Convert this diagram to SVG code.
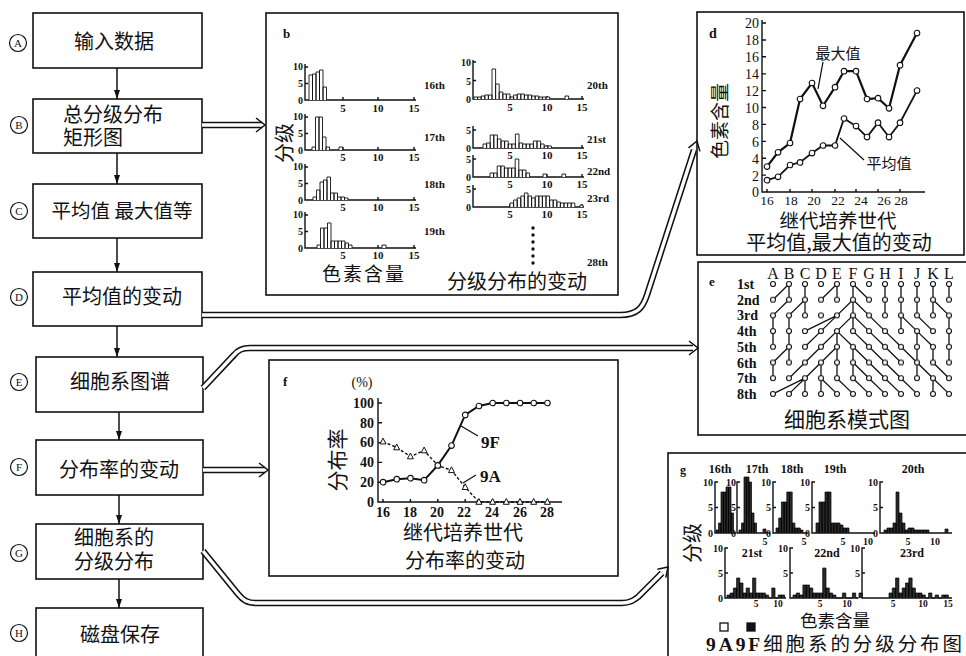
<svg xmlns="http://www.w3.org/2000/svg" width="966" height="656" viewBox="0 0 966 656">
<defs>
<style>
.box{fill:#fff;stroke:#111;stroke-width:1.6}
.pan{fill:#fff;stroke:#111;stroke-width:1.6}
.cn{font-family:"Noto Sans CJK SC","Noto Sans CJK JP",sans-serif;fill:#111}
.num{font-family:"Liberation Serif",serif;font-weight:bold;fill:#111}
.nr{font-family:"Liberation Serif",serif;fill:#111}
.ax{fill:none;stroke:#111;stroke-width:1.4}
.hb{fill:#fff;stroke:#111;stroke-width:0.9}
.hg{fill:#2a2a2a;stroke:#000;stroke-width:0.7}
.circ{fill:#fff;stroke:#111;stroke-width:1.2}
.cl{font-family:"Liberation Serif",serif;font-size:11px;fill:#111;text-anchor:middle}
.dblo{fill:none;stroke:#111;stroke-width:6.5}
.dbli{fill:none;stroke:#fff;stroke-width:3.4}
.chev{fill:none;stroke:#111;stroke-width:1.5}
.vl{fill:none;stroke:#111;stroke-width:1.5}
.ln{fill:none;stroke:#111;stroke-width:1.3}
.mid{text-anchor:middle}
.end{text-anchor:end}
</style>
<marker id="ah" markerUnits="userSpaceOnUse" markerWidth="10" markerHeight="8" refX="9" refY="4" orient="auto" viewBox="0 0 10 8"><path d="M0,1 L9,4 L0,7 z" fill="#111"/></marker>
<marker id="dot" markerUnits="userSpaceOnUse" markerWidth="8" markerHeight="8" refX="4" refY="4" viewBox="0 0 8 8"><circle cx="4" cy="4" r="2.8" fill="#fff" stroke="#111" stroke-width="1.1"/></marker>
<marker id="tri" markerUnits="userSpaceOnUse" markerWidth="8" markerHeight="8" refX="4" refY="4.5" viewBox="0 0 8 8"><path d="M4,1 L7,6.8 L1,6.8 z" fill="#fff" stroke="#111" stroke-width="1"/></marker>
<pattern id="nodes" patternUnits="userSpaceOnUse" x="765" y="276.15" width="16" height="15.7"><circle cx="8" cy="7.85" r="2.5" fill="#fff" stroke="#111" stroke-width="1.1"/></pattern>
</defs>
<rect x="0" y="0" width="966" height="656" fill="#fff"/>

<!-- left flow column -->
<g id="node-A">
<circle class="circ" cx="18" cy="43" r="8.5"/><text class="cl" x="18" y="47">A</text>
<rect class="box" x="33" y="13" width="169" height="55"/>
<text class="cn mid" x="114" y="49" font-size="20">输入数据</text>
</g>
<g id="node-B">
<circle class="circ" cx="19" cy="125" r="8.5"/><text class="cl" x="19" y="129">B</text>
<rect class="box" x="33" y="99" width="169" height="54"/>
<text class="cn" x="63" y="122" font-size="20">总分级分布</text>
<text class="cn" x="63" y="145" font-size="20">矩形图</text>
</g>
<g id="node-C">
<circle class="circ" cx="19" cy="211" r="8.5"/><text class="cl" x="19" y="215">C</text>
<rect class="box" x="33" y="184" width="169" height="54"/>
<text class="cn mid" x="122" y="218" font-size="19.5">平均值 最大值等</text>
</g>
<g id="node-D">
<circle class="circ" cx="19" cy="297" r="8.5"/><text class="cl" x="19" y="301">D</text>
<rect class="box" x="33" y="272" width="169" height="54"/>
<text class="cn mid" x="122" y="304" font-size="20">平均值的变动</text>
</g>
<g id="node-E">
<circle class="circ" cx="19" cy="382" r="8.5"/><text class="cl" x="19" y="386">E</text>
<rect class="box" x="36" y="357" width="167" height="55"/>
<text class="cn mid" x="120" y="389" font-size="20">细胞系图谱</text>
</g>
<g id="node-F">
<circle class="circ" cx="19" cy="467" r="8.5"/><text class="cl" x="19" y="471">F</text>
<rect class="box" x="36" y="440" width="167" height="55"/>
<text class="cn mid" x="119" y="477" font-size="20">分布率的变动</text>
</g>
<g id="node-G">
<circle class="circ" cx="19" cy="553" r="8.5"/><text class="cl" x="19" y="557">G</text>
<rect class="box" x="36" y="524" width="167" height="55"/>
<text class="cn mid" x="114" y="545" font-size="20">细胞系的</text>
<text class="cn mid" x="114" y="569" font-size="20">分级分布</text>
</g>
<g id="node-H">
<circle class="circ" cx="19" cy="633" r="8.5"/><text class="cl" x="19" y="637">H</text>
<rect class="box" x="36" y="608" width="167" height="60"/>
<text class="cn mid" x="120" y="642" font-size="20">磁盘保存</text>
</g>

<!-- panel b -->
<g id="panel-b">
<rect class="pan" x="266" y="13" width="352" height="282"/>
<text class="num" x="283" y="38" font-size="13">b</text>
<text class="cn mid" transform="translate(292,143) rotate(-90)" font-size="20">分级</text>
<path class="ax" d="M305,64V100H416M305,67h3M305,83.5h3M343,100v-3M378,100v-3M414,100v-3
M305,114V150H416M305,117h3M305,133.5h3M343,150v-3M378,150v-3M414,150v-3
M305,164V200H416M305,167h3M305,183.5h3M343,200v-3M378,200v-3M414,200v-3
M305,212V248H416M305,215h3M305,231.5h3M343,248v-3M378,248v-3M414,248v-3"/>
<g class="num" font-size="10" text-anchor="end">
<text x="303" y="70">10</text><text x="303" y="87">5</text><text x="303" y="104">0</text>
<text x="303" y="120">10</text><text x="303" y="137">5</text><text x="303" y="154">0</text>
<text x="303" y="170">10</text><text x="303" y="187">5</text><text x="303" y="204">0</text>
<text x="303" y="218">10</text><text x="303" y="235">5</text><text x="303" y="252">0</text>
</g>
<g class="num" font-size="11" text-anchor="middle">
<text x="343" y="112">5</text><text x="378" y="112">10</text><text x="414" y="112">15</text>
<text x="343" y="161">5</text><text x="378" y="161">10</text><text x="414" y="161">15</text>
<text x="343" y="211">5</text><text x="378" y="211">10</text><text x="414" y="211">15</text>
<text x="343" y="259">5</text><text x="378" y="259">10</text><text x="414" y="259">15</text>
</g>
<g class="num" font-size="11">
<text x="424" y="89">16th</text><text x="424" y="141">17th</text><text x="424" y="188">18th</text><text x="424" y="235">19th</text>
<text x="587" y="89">20th</text><text x="587" y="143">21st</text><text x="587" y="175">22nd</text><text x="587" y="202">23rd</text><text x="587" y="266">28th</text>
</g>
<path class="hb" d="M309,100v-25h3.5v25v-26h3.5v26v-28h3.5v28v-30h3.5v30v-13h3.5v13"/>
<path class="hb" d="M312,150v-3h3.5v3v-33h3.5v33v-33h3.5v33v-13h3.5v13v-3h3.5v3M339,150v-3h3.5v3"/>
<path class="hb" d="M313,200v-3h3.5v3v-10h3.5v10v-18h3.5v18v-20h3.5v20v-23h3.5v23v-7h3.5v7v-7h3.5v7v-3h3.5v3v-3h3.5v3v-2h3.5v2"/>
<path class="hb" d="M317,248v-3h3.5v3v-20h3.5v20v-20h3.5v20v-25h3.5v25v-7h3.5v7v-7h3.5v7v-7h3.5v7v-7h3.5v7v-5h3.5v5v-3h3.5v3M382,248v-3h4v3"/>
<path class="ax" d="M473,60V99H584M473,62h3M473,80.5h3M510,99v-3M547,99v-3M582,99v-3
M473,126V148H584M473,130h3M510,148v-3M547,148v-3M582,148v-3
M473,155V177H584M473,159h3M510,177v-3M547,177v-3M582,177v-3
M473,185V207H584M473,189h3M510,207v-3M547,207v-3M582,207v-3"/>
<g class="num" font-size="10" text-anchor="end">
<text x="471" y="66">10</text><text x="471" y="85">5</text><text x="471" y="103">0</text>
<text x="471" y="134">5</text><text x="471" y="152">0</text>
<text x="471" y="163">5</text><text x="471" y="181">0</text>
<text x="471" y="193">5</text><text x="471" y="211">0</text>
</g>
<g class="num" font-size="11" text-anchor="middle">
<text x="510" y="111">5</text><text x="547" y="111">10</text><text x="582" y="111">15</text>
<text x="510" y="159">5</text><text x="547" y="159">10</text><text x="582" y="159">15</text>
<text x="510" y="188">5</text><text x="547" y="188">10</text><text x="582" y="188">15</text>
<text x="510" y="218">5</text><text x="547" y="218">10</text><text x="582" y="218">15</text>
</g>
<path class="hb" d="M474,99v-2h3.6v2v-2h3.6v2v-3h3.6v3v-4h3.6v4v-4h3.6v4v-30h3.6v30v-15h3.6v15v-7h3.6v7v-5h3.6v5v-5h3.6v5v-2h3.6v2v-4h3.6v4v-5h3.6v5v-5h3.6v5v-4h3.6v4v-4h3.6v4v-3h3.6v3v-3h3.6v3v-2h3.6v2v-2h3.6v2v-2h3.6v2M565,99v-3h3.6v3"/>
<path class="hb" d="M483,148v-4h3.6v4v-5h3.6v5v-13h3.6v13v-13h3.6v13v-9h3.6v9v-7h3.6v7v-7h3.6v7v-4h3.6v4v-4h3.6v4v-14h3.6v14v-5h3.6v5v-4h3.6v4v-4h3.6v4v-4h3.6v4v-7h3.6v7v-7h3.6v7v-4h3.6v4v-2h3.6v2v-2h3.6v2"/>
<path class="hb" d="M490,177v-4h3.6v4v-4h3.6v4v-11h3.6v11v-11h3.6v11v-9h3.6v9v-9h3.6v9v-9h3.6v9v-18h3.6v18v-7h3.6v7v-7h3.6v7v-4h3.6v4M543,177v-3h3.6v3M562,177v-3h3.6v3"/>
<path class="hb" d="M510,207v-4h3.6v4v-7h3.6v7v-9h3.6v9v-11h3.6v11v-14h3.6v14v-11h3.6v11v-9h3.6v9v-11h3.6v11v-11h3.6v11v-11h3.6v11v-11h3.6v11v-7h3.6v7v-7h3.6v7v-5h3.6v5v-4h3.6v4v-4h3.6v4v-4h3.6v4v-4h3.6v4M580,207v-2h3v2"/>
<g fill="#111"><circle cx="533" cy="228" r="1.7"/><circle cx="533" cy="235" r="1.7"/><circle cx="533" cy="242" r="1.7"/><circle cx="533" cy="249" r="1.7"/><circle cx="533" cy="256" r="1.7"/><circle cx="533" cy="263" r="1.7"/></g>
<text class="cn mid" x="364" y="281" font-size="19" letter-spacing="2">色素含量</text>
<text class="cn mid" x="517" y="289" font-size="20">分级分布的变动</text>
</g>

<!-- panel d -->
<g id="panel-d">
<rect class="pan" x="697" y="12" width="267" height="243"/>
<text class="num" x="709" y="38" font-size="14">d</text>
<path class="ax" d="M762,20V192H925M762,175.1h4M762,158.2h4M762,141.35h4M762,124.4h4M762,107.5h4M762,90.6h4M762,73.85h4M762,56.8h4M762,39.95h4M762,23h4M767,192v-3M790,192v-3M812,192v-3M835,192v-3M856,192v-3M878,192v-3M900,192v-3"/>
<g class="nr" font-size="14" text-anchor="end">
<text x="759" y="28">20</text><text x="759" y="45">18</text><text x="759" y="62">16</text><text x="759" y="79">14</text><text x="759" y="96">12</text><text x="759" y="113">10</text><text x="759" y="130">8</text><text x="759" y="147">6</text><text x="759" y="164">4</text><text x="759" y="181">2</text><text x="759" y="197">0</text>
</g>
<g class="nr" font-size="13.5" text-anchor="middle">
<text x="767" y="205">16</text><text x="791" y="205">18</text><text x="814" y="205">20</text><text x="838" y="205">22</text><text x="861" y="205">24</text><text x="884" y="205">26</text><text x="901" y="205">28</text>
</g>
<polyline fill="none" stroke="#111" stroke-width="2.2" marker-start="url(#dot)" marker-mid="url(#dot)" marker-end="url(#dot)" points="767,166.6 778,152.3 790,143 800,99 812,83 823,105.8 835,87.2 844,71.2 856,71.2 867,99 878,98.2 889,108.3 900,65.2 917,33.1"/>
<polyline fill="none" stroke="#111" stroke-width="1.8" marker-start="url(#dot)" marker-mid="url(#dot)" marker-end="url(#dot)" points="767,180.2 778,176.8 790,165 800,162.4 812,153.1 823,145.5 835,145.5 844,118.5 856,126.1 867,137.1 878,122.7 889,137.1 900,122.7 917,90.6"/>
<path class="ln" d="M823,62L818,89M864,160L840,138"/>
<text class="cn mid" x="838" y="59" font-size="15">最大值</text>
<text class="cn mid" x="889" y="169" font-size="15">平均值</text>
<text class="cn mid" transform="translate(727,121) rotate(-90)" font-size="19">色素含量</text>
<text class="cn mid" x="838" y="228" font-size="19.5">继代培养世代</text>
<text class="cn mid" x="839" y="250" font-size="20">平均值,最大值的变动</text>
</g>

<!-- panel e -->
<g id="panel-e">
<rect class="pan" x="698" y="262" width="272" height="173"/>
<text class="num" x="709" y="286" font-size="13">e</text>
<g class="nr" font-size="16" text-anchor="middle">
<text x="773" y="279">A</text><text x="789" y="279">B</text><text x="805" y="279">C</text><text x="821" y="279">D</text><text x="837" y="279">E</text><text x="853" y="279">F</text><text x="869" y="279">G</text><text x="885" y="279">H</text><text x="901" y="279">I</text><text x="917" y="279">J</text><text x="933" y="279">K</text><text x="949" y="279">L</text>
</g>
<g class="num" font-size="14">
<text x="737" y="289">1st</text><text x="737" y="304.7">2nd</text><text x="737" y="320.4">3rd</text><text x="737" y="336.1">4th</text><text x="737" y="351.8">5th</text><text x="737" y="367.5">6th</text><text x="737" y="383.2">7th</text><text x="737" y="398.9">8th</text>
</g>
<path class="ln" d="M789,284L773,299.7M789,284L789,299.7M805,284L805,299.7M837,284L821,299.7M837,284L837,299.7M853,284L853,299.7M853,284L869,299.7M885,284L885,299.7M901,284L901,299.7M917,284L917,299.7M933,284L933,299.7M949,284L949,299.7
M789,299.7L773,315.4M805,299.7L789,315.4M805,299.7L805,315.4M853,299.7L837,315.4M853,299.7L853,315.4M853,299.7L869,315.4M885,299.7L885,315.4M901,299.7L901,315.4M917,299.7L917,315.4M933,299.7L933,315.4M933,299.7L949,315.4
M773,315.4L773,331.1M789,315.4L789,331.1M837,315.4L805,331.1M837,315.4L821,331.1M853,315.4L837,331.1M853,315.4L853,331.1M853,315.4L869,331.1M869,315.4L885,331.1M901,315.4L901,331.1M901,315.4L917,331.1M917,315.4L933,331.1M949,315.4L949,331.1
M773,331.1L773,346.8M789,331.1L789,346.8M821,331.1L805,346.8M837,331.1L821,346.8M837,331.1L837,346.8M837,331.1L853,346.8M853,331.1L869,346.8M869,331.1L885,346.8M885,331.1L901,346.8M917,331.1L917,346.8M917,331.1L933,346.8M949,331.1L949,346.8
M789,346.8L773,362.5M789,346.8L789,362.5M821,346.8L805,362.5M837,346.8L821,362.5M837,346.8L837,362.5M853,346.8L853,362.5M853,346.8L869,362.5M869,346.8L885,362.5M885,346.8L901,362.5M901,346.8L917,362.5M917,346.8L917,362.5M933,346.8L933,362.5M949,346.8L949,362.5
M773,362.5L773,378.2M805,362.5L789,378.2M821,362.5L805,378.2M821,362.5L821,378.2M837,362.5L837,378.2M853,362.5L853,378.2M853,362.5L869,378.2M869,362.5L885,378.2M885,362.5L901,378.2M917,362.5L917,378.2M917,362.5L933,378.2M933,362.5L949,378.2
M805,378.2L773,393.9M805,378.2L789,393.9M805,378.2L805,393.9M821,378.2L821,393.9M821,378.2L837,393.9M837,378.2L853,393.9M853,378.2L869,393.9M869,378.2L885,393.9M885,378.2L901,393.9M901,378.2L917,393.9M933,378.2L933,393.9M933,378.2L949,393.9"/>
<rect x="765" y="276.15" width="192" height="125.6" fill="url(#nodes)"/>
<text class="cn mid" x="847" y="427" font-size="21">细胞系模式图</text>
</g>

<!-- panel f -->
<g id="panel-f">
<rect class="pan" x="269" y="360" width="349" height="216"/>
<text class="num" x="283" y="386" font-size="13">f</text>
<text class="nr mid" x="362" y="387" font-size="14">(%)</text>
<path class="ax" d="M378,398V502H562M378,482.2h4M378,462.4h4M378,442.6h4M378,422.8h4M378,403h4M383,502v-3M410.4,502v-3M437.8,502v-3M465.2,502v-3M492.6,502v-3M520,502v-3M547.4,502v-3"/>
<g class="num" font-size="14" text-anchor="end">
<text x="374" y="408">100</text><text x="374" y="428">80</text><text x="374" y="447">60</text><text x="374" y="467">40</text><text x="374" y="487">20</text><text x="374" y="507">0</text>
</g>
<g class="num" font-size="14" text-anchor="middle">
<text x="383" y="517">16</text><text x="410" y="517">18</text><text x="437" y="517">20</text><text x="464" y="517">22</text><text x="492" y="517">24</text><text x="520" y="517">26</text><text x="547" y="517">28</text>
</g>
<polyline fill="none" stroke="#111" stroke-width="1.4" stroke-dasharray="3,2" marker-start="url(#tri)" marker-mid="url(#tri)" marker-end="url(#tri)" points="383,441.6 396.7,447.5 410.4,456.5 424.1,450.5 437.8,465.4 451.5,470.3 465.2,487.2 478.9,502 492.6,502 506.3,502 520,502 533.7,502 547.4,502"/>
<polyline fill="none" stroke="#111" stroke-width="2" marker-start="url(#dot)" marker-mid="url(#dot)" marker-end="url(#dot)" points="383,482.2 396.7,479.2 410.4,478.2 424.1,480.2 437.8,465.4 451.5,445.6 465.2,414.9 478.9,406 492.6,403 506.3,403 520,403 533.7,403 547.4,403"/>
<path class="ln" d="M478,436L461,426M476,475L463,483"/>
<text class="num" x="481" y="448" font-size="17">9F</text>
<text class="num" x="480" y="482" font-size="17">9A</text>
<text class="cn mid" transform="translate(345,460) rotate(-90)" font-size="21">分布率</text>
<text class="cn mid" x="463" y="540" font-size="20">继代培养世代</text>
<text class="cn mid" x="465" y="568" font-size="20">分布率的变动</text>
</g>

<!-- panel g -->
<g id="panel-g">
<rect class="pan" x="668" y="453" width="302" height="212"/>
<text class="num" x="680" y="474" font-size="12">g</text>
<g class="num" font-size="12" text-anchor="middle">
<text x="720" y="473">16th</text><text x="757" y="473">17th</text><text x="792" y="473">18th</text><text x="835" y="473">19th</text><text x="913" y="473">20th</text>
<text x="752" y="557">21st</text><text x="827" y="557">22nd</text><text x="912" y="557">23rd</text>
</g>
<path class="ax" d="M718,482H715V533H736M740,482H737V533H770M776,482H773V533H808M815,482H812V533H875M883,482H880V533H952M715,507.5h3M737,507.5h3M773,507.5h3M812,507.5h3M880,507.5h3
M728,548H725V598H786M793,548H790V598H858M865,548H862V598H952M725,573h3M790,573h3M862,573h3"/>
<g class="num" font-size="10" text-anchor="end">
<text x="713" y="486">10</text><text x="713" y="511">5</text><text x="713" y="537">0</text>
<text x="736" y="486">10</text><text x="736" y="511">5</text><text x="736" y="537">0</text>
<text x="771" y="486">10</text><text x="771" y="511">5</text><text x="771" y="537">0</text>
<text x="810" y="486">10</text><text x="810" y="511">5</text><text x="810" y="537">0</text>
<text x="878" y="486">10</text><text x="878" y="511">5</text><text x="878" y="537">0</text>
<text x="723" y="552">10</text><text x="723" y="577">5</text><text x="723" y="602">0</text>
<text x="788" y="552">10</text><text x="788" y="577">5</text>
<text x="860" y="552">10</text><text x="860" y="577">5</text>
</g>
<g class="num" font-size="10" text-anchor="middle">
<text x="765" y="545">5</text><text x="804" y="545">5</text><text x="843" y="545">5</text><text x="868" y="545">10</text><text x="908" y="545">5</text><text x="935" y="545">10</text>
</g>
<g class="num" font-size="9.5" text-anchor="middle">
<text x="756" y="607">5</text><text x="778" y="607">10</text><text x="820" y="607">5</text><text x="847" y="607">10</text><text x="893" y="607">5</text><text x="923" y="607">10</text><text x="948" y="607">15</text>
</g>
<path class="hg" d="M716,533v-3h2.5v3v-10h2.5v10v-41h2.5v41v-41h2.5v41v-46h2.5v46v-46h2.5v46v-20h2.5v20"/>
<path class="hg" d="M739,533v-3h2.5v3v-10h2.5v10v-56h2.5v56v-56h2.5v56v-51h2.5v51v-20h2.5v20v-10h2.5v10M763,533v-4h3v4"/>
<path class="hg" d="M776,533v-5h2.7v5v-15h2.7v15v-31h2.7v31v-31h2.7v31v-41h2.7v41v-41h2.7v41v-10h2.7v10v-5h2.7v5v-5h2.7v5v-3h2.7v3"/>
<path class="hg" d="M816,533v-10h3v10v-31h3v31v-31h3v31v-41h3v41v-41h3v41v-10h3v10v-10h3v10v-10h3v10v-8h3v8v-5h3v5v-5h3v5"/>
<path class="hg" d="M884,533v-3h3v3v-5h3v5v-5h3v5v-10h3v10v-41h3v41v-20h3v20v-10h3v10v-3h3v3v-5h3v5v-5h3v5v-3h3v3v-3h3v3v-3h3v3v-3h3v3v-3h3v3M945,533v-4h3v4"/>
<path class="hg" d="M727,598v-3h3.2v3v-5h3.2v5v-10h3.2v10v-20h3.2v20v-15h3.2v15v-5h3.2v5v-10h3.2v10v-5h3.2v5v-20h3.2v20v-5h3.2v5v-5h3.2v5v-5h3.2v5v-3h3.2v3h3.2v-10h3.2v10h3.2v-3h3.2v3v-3h3.2v3"/>
<path class="hg" d="M793,598v-3h3.3v3v-5h3.3v5v-3h3.3v3v-13h3.3v13v-13h3.3v13v-10h3.3v10v-5h3.3v5v-5h3.3v5v-5h3.3v5v-30h3.3v30v-10h3.3v10v-5h3.3v5v-3h3.3v3h6.6v-5h3.3v5h6.6v-5h3.3v5h3.3v-5h3.3v5"/>
<path class="hg" d="M889,598v-5h3.3v5v-10h3.3v10v-20h3.3v20v-5h3.3v5v-10h3.3v10v-15h3.3v15v-20h3.3v20v-10h3.3v10v-5h3.3v5v-5h3.3v5v-3h3.3v3h3.3v-5h3.3v5h3.3v-3h3.3v3h3.3v-3h3.3v3v-3h3.3v3"/>
<text class="cn mid" transform="translate(700,543) rotate(-90)" font-size="20">分级</text>
<text class="cn mid" x="835" y="627" font-size="17.5">色素含量</text>
<rect x="720" y="623" width="8" height="8" fill="#fff" stroke="#111" stroke-width="1.3"/>
<rect x="747" y="623" width="8" height="8" fill="#111" stroke="#111" stroke-width="1.3"/>
<text class="cn" x="706" y="651" font-size="19.5" textLength="256" lengthAdjust="spacing"><tspan class="num" font-family="Liberation Serif">9A9F</tspan>细胞系的分级分布图</text>
</g>

<!-- connectors -->
<g id="connectors">
<path class="vl" marker-end="url(#ah)" d="M117,68V99"/>
<path class="vl" marker-end="url(#ah)" d="M117,153V184"/>
<path class="vl" marker-end="url(#ah)" d="M117,238V272"/>
<path class="vl" marker-end="url(#ah)" d="M117,326V357"/>
<path class="vl" marker-end="url(#ah)" d="M119,412V440"/>
<path class="vl" marker-end="url(#ah)" d="M119,495V524"/>
<path class="vl" marker-end="url(#ah)" d="M119,579V608"/>
<path class="dblo" d="M202,125H262"/><path class="dbli" d="M202,125H262"/>
<polyline class="chev" points="256,118 265,125 256,132"/>
<path class="dblo" d="M202,315H620C638,315 643,307 647,295L694,150"/><path class="dbli" d="M202,315H620C638,315 643,307 647,295L694,150"/>
<polyline class="chev" points="688.5,147.8 697,141 699.9,151.4"/>
<path class="dblo" d="M203,388L234,355C238,350 242,348 250,348H693"/><path class="dbli" d="M203,388L234,355C238,350 242,348 250,348H693"/>
<polyline class="chev" points="689,341 698,348 689,355"/>
<path class="dblo" d="M203,470H265"/><path class="dbli" d="M203,470H265"/>
<polyline class="chev" points="259,463 268,470 259,477"/>
<path class="dblo" d="M203,551L238,594C243,600 247,603 256,603H622C630,603 634,600 638,597L662,573"/><path class="dbli" d="M203,551L238,594C243,600 247,603 256,603H622C630,603 634,600 638,597L662,573"/>
<polyline class="chev" points="657.4,569.2 668,567 665.8,577.6"/>
</g>
</svg>
